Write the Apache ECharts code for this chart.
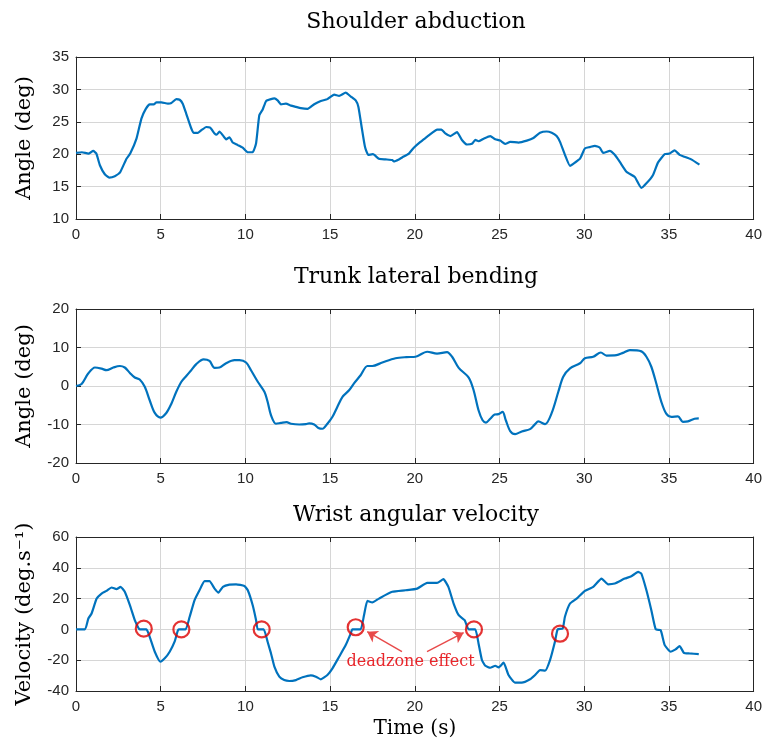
<!DOCTYPE html>
<html>
<head>
<meta charset="utf-8">
<script src="https://cdn.jsdelivr.net/npm/echarts@6/dist/echarts.min.js"></script>
<style>html,body{margin:0;padding:0;background:#fff}#c{width:765px;height:743px}</style>
</head>
<body>
<div id="c"></div>
<script>
var titles = ['Shoulder abduction', 'Trunk lateral bending', 'Wrist angular velocity'];
var yNames = ['Angle (deg)', 'Angle (deg)', 'Velocity (deg.s\u207B\u00B9)'];
var xName = 'Time (s)';
var annotationText = 'deadzone effect';
var xTicks = [0, 40, 5];
var yTicks = [[10, 35, 5], [-20, 20, 10], [-40, 60, 20]];

var shoulder = [[0,20.2],[0.35,20.3],[0.73,20.1],[1.02,20.5],[1.2,20.1],[1.41,18.3],[1.7,16.9],[1.96,16.4],[2.29,16.6],[2.6,17.2],[2.98,19.3],[3.2,20.1],[3.57,22.4],[3.86,25.5],[4.12,27.0],[4.35,27.7],[4.59,27.7],[4.75,28.0],[5.04,28.0],[5.43,27.8],[5.63,27.9],[5.92,28.5],[6.12,28.4],[6.3,27.8],[6.5,26.3],[6.8,24.0],[6.96,23.3],[7.2,23.3],[7.4,23.7],[7.69,24.2],[7.92,24.1],[8.18,23.2],[8.3,23.0],[8.47,23.5],[8.67,22.9],[8.86,22.3],[9.06,22.6],[9.25,21.8],[9.55,21.4],[9.84,21.0],[10.14,20.3],[10.43,20.3],[10.63,21.7],[10.82,26.0],[11.02,26.9],[11.22,28.2],[11.51,28.5],[11.71,28.6],[11.9,28.3],[12.1,27.7],[12.39,27.8],[12.69,27.5],[12.98,27.3],[13.27,27.1],[13.67,27.0],[14.06,27.7],[14.45,28.2],[14.84,28.5],[15.24,29.2],[15.53,29.0],[15.92,29.5],[16.22,28.9],[16.51,28.3],[16.67,27.3],[16.86,24.2],[17.06,21.1],[17.25,19.9],[17.53,20.0],[17.88,19.3],[18.27,19.2],[18.67,19.1],[18.76,18.9],[19.06,19.2],[19.25,19.5],[19.65,20.1],[19.94,21.0],[20.33,21.9],[20.73,22.7],[21.02,23.3],[21.31,23.8],[21.57,23.8],[21.8,23.2],[22.1,22.8],[22.49,23.4],[22.78,22.2],[23.08,21.5],[23.37,21.6],[23.57,22.2],[23.76,22.0],[24.06,22.4],[24.45,22.8],[24.75,22.3],[25.04,22.1],[25.33,21.6],[25.63,21.9],[26.12,21.8],[26.61,22.1],[27.0,22.5],[27.39,23.3],[27.78,23.5],[28.08,23.3],[28.37,22.8],[28.57,21.9],[28.86,19.9],[29.16,18.2],[29.45,18.7],[29.75,19.3],[30.04,20.9],[30.33,21.1],[30.63,21.3],[30.92,21.0],[31.12,20.2],[31.51,20.5],[31.8,19.9],[32.1,18.8],[32.49,17.3],[32.98,16.5],[33.37,14.8],[33.67,15.5],[34.06,16.8],[34.35,18.7],[34.75,20.0],[35.04,20.1],[35.33,20.6],[35.63,19.9],[35.92,19.6],[36.31,19.2],[36.8,18.4]];

var trunk = [[0,0],[0.33,0.5],[0.73,3.3],[1.12,4.8],[1.51,4.5],[1.8,4.1],[2.2,4.8],[2.59,5.2],[2.88,4.8],[3.18,3.4],[3.47,2.2],[3.76,1.7],[4.06,-0.2],[4.35,-3.7],[4.65,-7.0],[4.98,-8.2],[5.33,-7.0],[5.63,-4.6],[5.92,-1.5],[6.22,1.1],[6.51,2.6],[6.8,4.1],[7.1,5.7],[7.53,6.9],[7.88,6.5],[8.18,4.7],[8.47,4.8],[8.86,5.9],[9.35,6.7],[9.65,6.7],[10.04,6.1],[10.33,4.1],[10.73,1.1],[11.12,-1.5],[11.31,-4.1],[11.51,-7.6],[11.8,-9.8],[12.1,-9.6],[12.43,-9.4],[12.69,-9.8],[13.18,-10.0],[13.57,-9.9],[13.76,-9.7],[14.06,-10.0],[14.31,-10.9],[14.55,-11.1],[14.84,-9.8],[15.14,-8.0],[15.43,-5.4],[15.73,-2.8],[16.12,-1.1],[16.41,0.7],[16.8,2.8],[17.2,5.2],[17.49,5.2],[18.08,6.1],[18.86,7.2],[19.5,7.5],[20.04,7.6],[20.73,8.9],[21.31,8.4],[21.9,8.8],[22.2,7.6],[22.59,4.7],[23.18,2.2],[23.47,-1.1],[23.76,-6.3],[24.0,-8.9],[24.2,-9.5],[24.45,-8.5],[24.71,-7.4],[24.94,-7.3],[25.18,-6.7],[25.37,-8.9],[25.63,-11.7],[25.92,-12.5],[26.31,-11.8],[26.8,-11.2],[27.1,-9.9],[27.29,-9.2],[27.69,-9.9],[28.08,-7.0],[28.47,-1.5],[28.76,2.4],[29.16,4.6],[29.75,5.9],[30.04,7.2],[30.53,7.6],[30.98,8.7],[31.31,7.9],[31.9,8.0],[32.29,8.6],[32.69,9.3],[33.37,9.0],[33.67,7.6],[33.96,5.0],[34.25,0.7],[34.55,-4.1],[34.84,-7.2],[35.14,-8.0],[35.53,-7.9],[35.82,-9.3],[36.12,-9.2],[36.51,-8.5],[36.76,-8.4]];

var velocity = [[0,0],[0.53,0],[0.73,7.1],[0.92,10.3],[1.22,20.0],[1.51,23.3],[1.8,25.0],[2.1,27.2],[2.39,26.1],[2.63,27.6],[2.88,24.4],[3.18,15.7],[3.47,6.0],[3.67,1.3],[3.76,0],[4.16,0],[4.35,-4.8],[4.65,-14.5],[4.98,-21.0],[5.24,-18.8],[5.53,-14.5],[5.82,-8.0],[6.02,-0.5],[6.12,0],[6.47,0],[6.71,8.2],[7.0,19.0],[7.29,25.4],[7.59,31.3],[7.88,31.3],[8.18,26.5],[8.41,23.9],[8.67,27.6],[9.06,29.1],[9.45,29.3],[9.94,28.2],[10.14,25.4],[10.43,15.7],[10.63,6.0],[10.73,0],[11.08,0],[11.31,-8.0],[11.51,-15.6],[11.71,-24.2],[12.0,-30.7],[12.29,-32.9],[12.59,-33.5],[12.98,-32.9],[13.37,-31.1],[13.86,-29.8],[14.16,-30.7],[14.45,-32.4],[14.84,-29.6],[15.14,-25.3],[15.53,-17.8],[15.92,-10.2],[16.22,-2.6],[16.31,0],[16.8,0],[17.0,9.2],[17.2,18.5],[17.49,17.5],[17.88,20.0],[18.67,24.4],[19.45,25.4],[20.14,26.5],[20.73,30.2],[21.31,30.2],[21.69,32.6],[21.98,27.6],[22.29,16.8],[22.59,9.2],[22.94,6.0],[23.18,0],[23.57,0],[23.76,-9.1],[23.96,-19.9],[24.16,-23.6],[24.45,-24.9],[24.75,-23.6],[24.94,-24.7],[25.24,-21.6],[25.53,-29.6],[25.92,-34.6],[26.31,-34.6],[26.8,-32.4],[27.1,-29.6],[27.39,-26.4],[27.69,-26.8],[27.98,-19.9],[28.27,-8.0],[28.43,0],[28.73,0.6],[28.86,8.2],[29.16,16.8],[29.55,20.0],[30.04,25.0],[30.53,27.6],[31.02,33.0],[31.41,29.3],[31.8,29.8],[32.39,33.0],[32.78,34.5],[33.18,37.3],[33.37,36.2],[33.67,25.4],[33.96,12.5],[34.22,0],[34.51,-0.5],[34.75,-10.2],[35.1,-14.5],[35.39,-13.0],[35.63,-10.8],[35.88,-15.2],[36.2,-15.6],[36.76,-16.0]];

var deadzoneCircles = [[4.0,0.5],[6.22,0],[10.96,0],[16.51,1.4],[23.49,0],[28.57,-2.8]];
var annotationAnchor = [19.75, -21];
var arrowPairs = [[[19.24,-14.5],[17.19,-1.5]], [[20.72,-14.5],[22.88,-2.1]]];

var seriesData = [shoulder, trunk, velocity];

var AX = '#262626';
var SANS = 'Liberation Sans, Helvetica, Arial, sans-serif';
var SERIF = 'DejaVu Serif, serif';
var grids = [
  {left: 76, top: 57, width: 680, height: 162},
  {left: 76, top: 309, width: 680, height: 154},
  {left: 76, top: 537, width: 680, height: 154}
];
var titleY = [22, 277, 515];

var xAxes = [], yAxes = [], series = [], graphics = [];
for (var i = 0; i < 3; i++) {
  xAxes.push({
    type: 'value', gridIndex: i, position: 'bottom', min: xTicks[0], max: xTicks[1], interval: xTicks[2],
    axisLine: {show: true, onZero: false, lineStyle: {color: AX, width: 1}},
    axisTick: {show: true, inside: true, length: 5, lineStyle: {color: AX}},
    axisLabel: {show: true, color: AX, fontFamily: SANS, fontSize: 15, margin: 8},
    splitLine: {show: true, lineStyle: {color: '#d6d6d6', width: 1}},
    name: i === 2 ? xName : '', nameLocation: 'middle', nameGap: 28,
    nameTextStyle: {fontFamily: SERIF, fontSize: 20, color: '#000'}
  });
  xAxes.push({
    type: 'value', gridIndex: i, position: 'top', min: xTicks[0], max: xTicks[1], interval: xTicks[2],
    axisLine: {show: true, onZero: false, lineStyle: {color: AX, width: 1}},
    axisTick: {show: true, inside: true, length: 5, lineStyle: {color: AX}},
    axisLabel: {show: false}, splitLine: {show: false}
  });
  yAxes.push({
    type: 'value', gridIndex: i, position: 'left', min: yTicks[i][0], max: yTicks[i][1], interval: yTicks[i][2],
    axisLine: {show: true, onZero: false, lineStyle: {color: AX, width: 1}},
    axisTick: {show: true, inside: true, length: 5, lineStyle: {color: AX}},
    axisLabel: {show: true, color: AX, fontFamily: SANS, fontSize: 15, margin: 7},
    splitLine: {show: true, lineStyle: {color: '#d6d6d6', width: 1}},
    name: yNames[i], nameLocation: 'middle', nameGap: 41,
    nameTextStyle: {fontFamily: SERIF, fontSize: 21, color: '#000'}
  });
  yAxes.push({
    type: 'value', gridIndex: i, position: 'right', min: yTicks[i][0], max: yTicks[i][1], interval: yTicks[i][2],
    axisLine: {show: true, onZero: false, lineStyle: {color: AX, width: 1}},
    axisTick: {show: true, inside: true, length: 5, lineStyle: {color: AX}},
    axisLabel: {show: false}, splitLine: {show: false}
  });
  series.push({
    type: 'line', xAxisIndex: 2 * i, yAxisIndex: 2 * i, data: seriesData[i],
    showSymbol: false, symbol: 'none', smooth: i === 1 ? 0.3 : 0.15,
    lineStyle: {color: '#0072BD', width: 2.2}, z: 3
  });
  graphics.push({
    type: 'text', x: 416, y: titleY[i],
    style: {text: titles[i], x: 0, y: 0, textAlign: 'center', textVerticalAlign: 'middle',
      font: '22px ' + SERIF, fill: '#000'}
  });
}

series.push({
  type: 'scatter', xAxisIndex: 4, yAxisIndex: 4, data: deadzoneCircles,
  symbol: 'circle', symbolSize: 16,
  itemStyle: {color: 'rgba(0,0,0,0)', borderColor: '#dd0000', borderWidth: 2.2}, z: 5,
  markLine: {
    silent: true, symbol: ['none', 'arrow'], symbolSize: 10,
    lineStyle: {color: '#e84a4a', width: 1.4, type: 'solid'},
    label: {show: false},
    data: arrowPairs.map(function (p) { return [{coord: p[0]}, {coord: p[1]}]; })
  },
  markPoint: {
    silent: true, symbol: 'circle', symbolSize: 0,
    label: {show: true, formatter: annotationText, color: '#e8262b', fontFamily: SERIF, fontSize: 16,
      position: 'inside'},
    data: [{coord: annotationAnchor}]
  }
});

var chart = echarts.init(document.getElementById('c'), null, {renderer: 'canvas'});
chart.setOption({
  animation: false,
  backgroundColor: '#ffffff',
  grid: grids,
  xAxis: xAxes,
  yAxis: yAxes,
  series: series,
  graphic: graphics
});
</script>
</body>
</html>
